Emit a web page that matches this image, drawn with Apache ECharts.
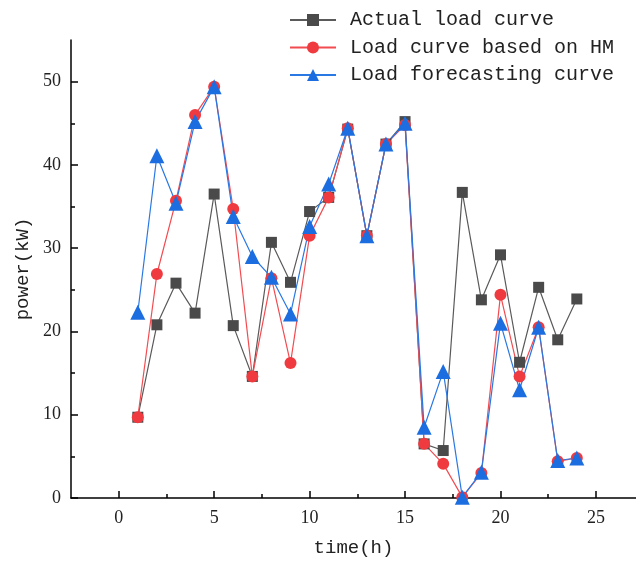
<!DOCTYPE html>
<html>
<head>
<meta charset="utf-8">
<script src="https://cdn.jsdelivr.net/npm/echarts@6/dist/echarts.min.js"></script>
<style>
  html, body { margin: 0; padding: 0; background: #fff; }
  #chart { width: 636px; height: 562px; }
</style>
</head>
<body>
<div id="chart"></div>
<script>
// Hour of day for each sample
const hours = [1, 2, 3, 4, 5, 6, 7, 8, 9, 10, 11, 12, 13, 14, 15, 16, 17, 18, 19, 20, 21, 22, 23, 24];

// Measured load (kW)
const actualLoad = [9.7, 20.8, 25.8, 22.2, 36.5, 20.7, 14.6, 30.7, 25.9, 34.4, 36.1, 44.3,
                    31.5, 42.5, 45.2, 6.5, 5.7, 36.7, 23.8, 29.2, 16.3, 25.3, 19.0, 23.9];

// Load obtained with HM (kW)
const hmLoad = [9.7, 26.9, 35.7, 46.0, 49.4, 34.7, 14.6, 26.4, 16.2, 31.5, 36.1, 44.4,
                31.5, 42.5, 44.8, 6.5, 4.1, 0.1, 3.0, 24.4, 14.6, 20.5, 4.4, 4.8];

// Forecast load (kW)
const forecastLoad = [22.3, 41.1, 35.4, 45.2, 49.4, 33.8, 29.0, 26.5, 22.1, 32.6, 37.7, 44.4,
                      31.5, 42.5, 45.0, 8.5, 15.2, 0.1, 3.1, 21.0, 13.0, 20.5, 4.5, 4.8];

const seriesNames = ['Actual load curve', 'Load curve based on HM', 'Load forecasting curve'];

// Axis tick values
const xMajorTicks = [0, 5, 10, 15, 20, 25];
const xMinorTicks = [2.5, 7.5, 12.5, 17.5, 22.5];
const yMajorTicks = [0, 10, 20, 30, 40, 50];
const yMinorTicks = [5, 15, 25, 35, 45];

const pairs = (ys) => hours.map((h, i) => [h, ys[i]]);

const tickFont = { fontFamily: 'Liberation Serif', fontSize: 18, color: '#222' };
const nameFont = { fontFamily: 'Liberation Mono', fontSize: 19, color: '#222' };
const tickLine = { color: '#000', width: 1.5 };

const X_MIN = -2.5, X_MAX = 27.1, Y_MIN = 0, Y_MAX = 55;

const chart = echarts.init(document.getElementById('chart'), null, { renderer: 'canvas' });

chart.setOption({
  animation: false,
  backgroundColor: '#ffffff',
  grid: { left: 71, right: 0, top: 40, bottom: 60, containLabel: false },
  legend: {
    orient: 'vertical',
    left: 289,
    top: 10,
    padding: 0,
    itemWidth: 46,
    itemHeight: 15,
    itemGap: 7.5,
    textStyle: { fontFamily: 'Liberation Mono', fontSize: 20, color: '#222', padding: [0, 0, 0, 9] },
    data: seriesNames
  },
  xAxis: [
    {
      type: 'value', min: X_MIN, max: X_MAX,
      name: 'time(h)', nameLocation: 'middle', nameGap: 40,
      nameTextStyle: nameFont,
      axisLine: { show: true, onZero: false, lineStyle: { color: '#000', width: 1.5 } },
      axisTick: { show: true, inside: true, length: 7, customValues: xMajorTicks, lineStyle: tickLine },
      axisLabel: { show: true, margin: 11, customValues: xMajorTicks, ...tickFont },
      splitLine: { show: false }
    },
    {
      type: 'value', min: X_MIN, max: X_MAX, position: 'bottom',
      axisLine: { show: false, onZero: false },
      axisTick: { show: true, inside: true, length: 4, customValues: xMinorTicks, lineStyle: tickLine },
      axisLabel: { show: false },
      splitLine: { show: false }
    }
  ],
  yAxis: [
    {
      type: 'value', min: Y_MIN, max: Y_MAX,
      name: 'power(kW)', nameLocation: 'middle', nameGap: 31, nameRotate: 90,
      nameTextStyle: nameFont,
      axisLine: { show: true, onZero: false, lineStyle: { color: '#000', width: 1.5 } },
      axisTick: { show: true, inside: true, length: 7, customValues: yMajorTicks, lineStyle: tickLine },
      axisLabel: { show: true, margin: 10, customValues: yMajorTicks, ...tickFont },
      splitLine: { show: false }
    },
    {
      type: 'value', min: Y_MIN, max: Y_MAX, position: 'left',
      axisLine: { show: false, onZero: false },
      axisTick: { show: true, inside: true, length: 4, customValues: yMinorTicks, lineStyle: tickLine },
      axisLabel: { show: false },
      splitLine: { show: false }
    }
  ],
  series: [
    {
      name: seriesNames[0], type: 'line', data: pairs(actualLoad),
      symbol: 'rect', symbolSize: 11,
      itemStyle: { color: '#4a4a4a' },
      lineStyle: { color: '#5a5a5a', width: 1.2 }
    },
    {
      name: seriesNames[1], type: 'line', data: pairs(hmLoad),
      symbol: 'circle', symbolSize: 12,
      itemStyle: { color: '#ef3a3f' },
      lineStyle: { color: '#f24b50', width: 1.2 }
    },
    {
      name: seriesNames[2], type: 'line', data: pairs(forecastLoad),
      symbol: 'triangle', symbolSize: 15,
      itemStyle: { color: '#1c6ee0' },
      lineStyle: { color: '#2a78e4', width: 1.2 }
    }
  ]
});
</script>
</body>
</html>
